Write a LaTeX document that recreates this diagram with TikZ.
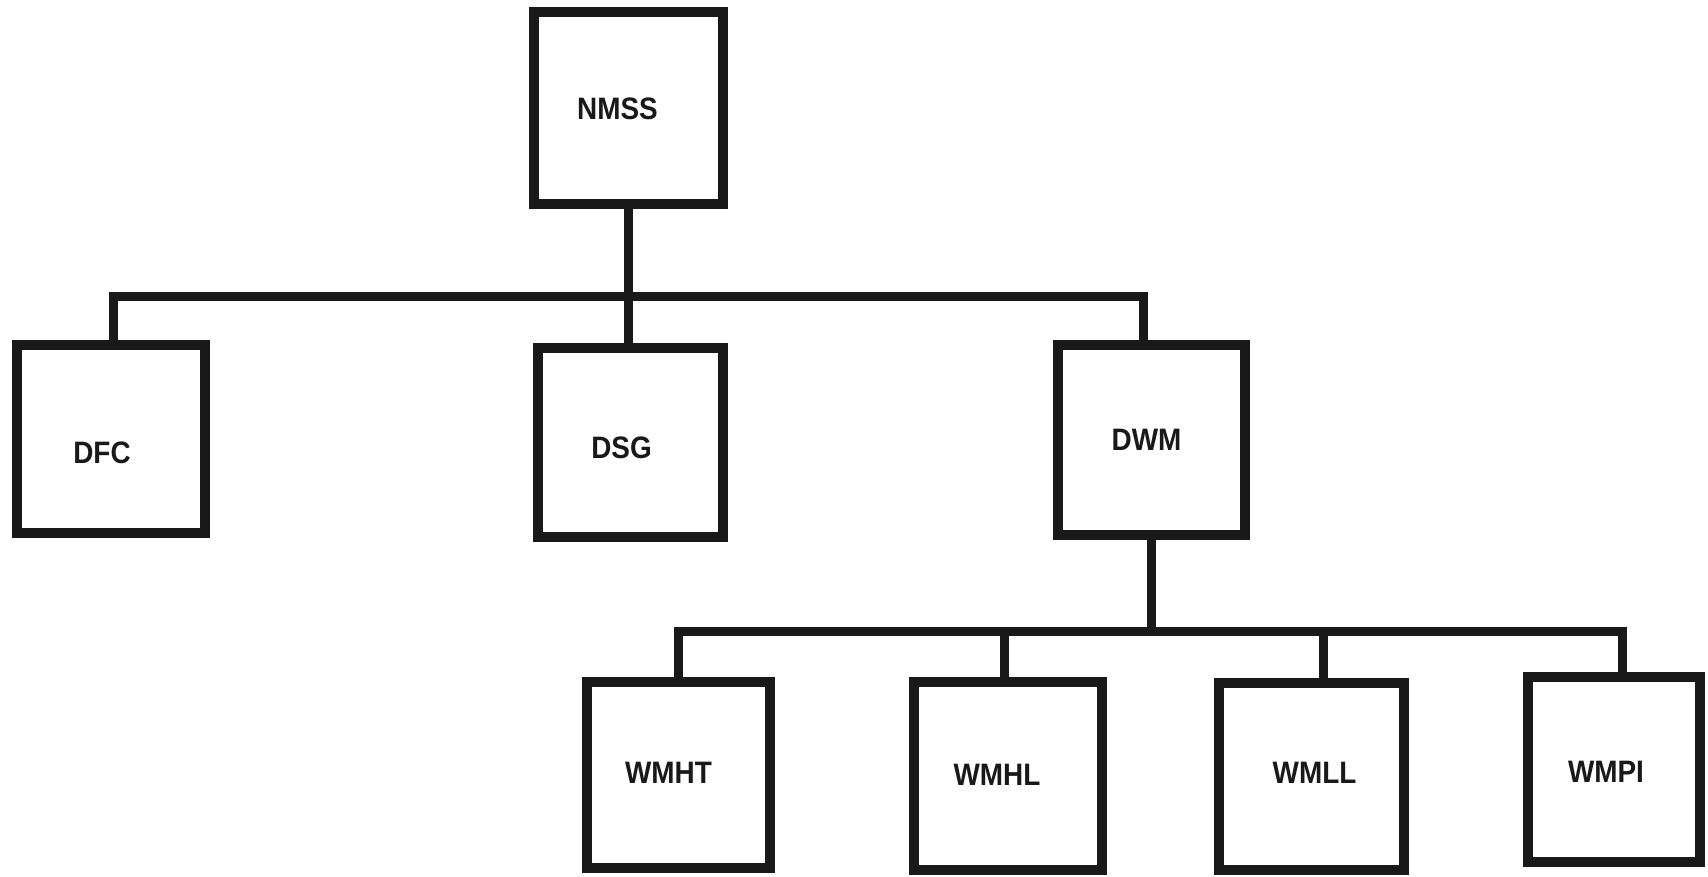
\documentclass[tikz,border=0pt]{standalone}
\usepackage{fontspec}
\setmainfont{Liberation Sans}
\newfontfamily\lblfont[FakeStretch=0.9]{Liberation Sans Bold}
\begin{document}
\begin{tikzpicture}[x=1pt,y=-1pt,
  box/.style={draw=black!90, line width=10pt, rectangle, inner sep=0pt, line join=miter},
  lbl/.style={inner sep=0pt, text=black!90, font=\lblfont\fontsize{31}{34}\selectfont},
  conn/.style={draw=black!90, line width=9pt, line join=miter}]
\useasboundingbox[fill=white] (0,0) rectangle (1708,876);
\node[box, minimum width=189pt, minimum height=192pt] (nmss) at (628.5,108) {};
\node[box, minimum width=188pt, minimum height=188pt] (dfc) at (111,439) {};
\node[box, minimum width=185pt, minimum height=189pt] (dsg) at (630.5,442.5) {};
\node[box, minimum width=187pt, minimum height=190pt] (dwm) at (1151.5,440) {};
\node[box, minimum width=183pt, minimum height=186pt] (wmht) at (678.5,775) {};
\node[box, minimum width=188pt, minimum height=188pt] (wmhl) at (1008,776) {};
\node[box, minimum width=185pt, minimum height=187pt] (wmll) at (1311.5,776.5) {};
\node[box, minimum width=172pt, minimum height=185pt] (wmpi) at (1614,769.5) {};
% labels
\node[lbl] (nmss-t) at ([xshift=-11pt,yshift=-1pt]nmss.center) {NMSS};
\node[lbl] (dfc-t) at ([xshift=-9pt,yshift=-14pt]dfc.center) {DFC};
\node[lbl] (dsg-t) at ([xshift=-9pt,yshift=-5pt]dsg.center) {DSG};
\node[lbl] (dwm-t) at ([xshift=-5pt]dwm.center) {DWM};
\node[lbl] (wmht-t) at ([xshift=-10pt,yshift=2pt]wmht.center) {WMHT};
\node[lbl] (wmhl-t) at ([xshift=-11pt,yshift=1pt]wmhl.center) {WMHL};
\node[lbl] (wmll-t) at ([xshift=3pt,yshift=3.5pt]wmll.center) {WMLL};
\node[lbl] (wmpi-t) at ([xshift=-8pt,yshift=-2.5pt]wmpi.center) {WMPI};
\coordinate (bus1) at (628,296);
\coordinate (bus2) at (1150,631);
% upper level
\draw[conn] ([xshift=2pt]dfc.north) |- (bus1) -| ([xshift=-8pt]dwm.north);
\draw[conn] (nmss.south) -- (nmss.south |- dsg.north);
% lower level
\draw[conn] (dwm.south) -- (dwm.south |- bus2);
\draw[conn] (wmht.north) |- (bus2) -| ([xshift=8pt]wmpi.north);
\draw[conn] ([xshift=-4pt]wmhl.north) -- ([xshift=-4pt]wmhl.north |- bus2);
\draw[conn] ([xshift=12pt]wmll.north) -- ([xshift=12pt]wmll.north |- bus2);
\end{tikzpicture}
\end{document}
